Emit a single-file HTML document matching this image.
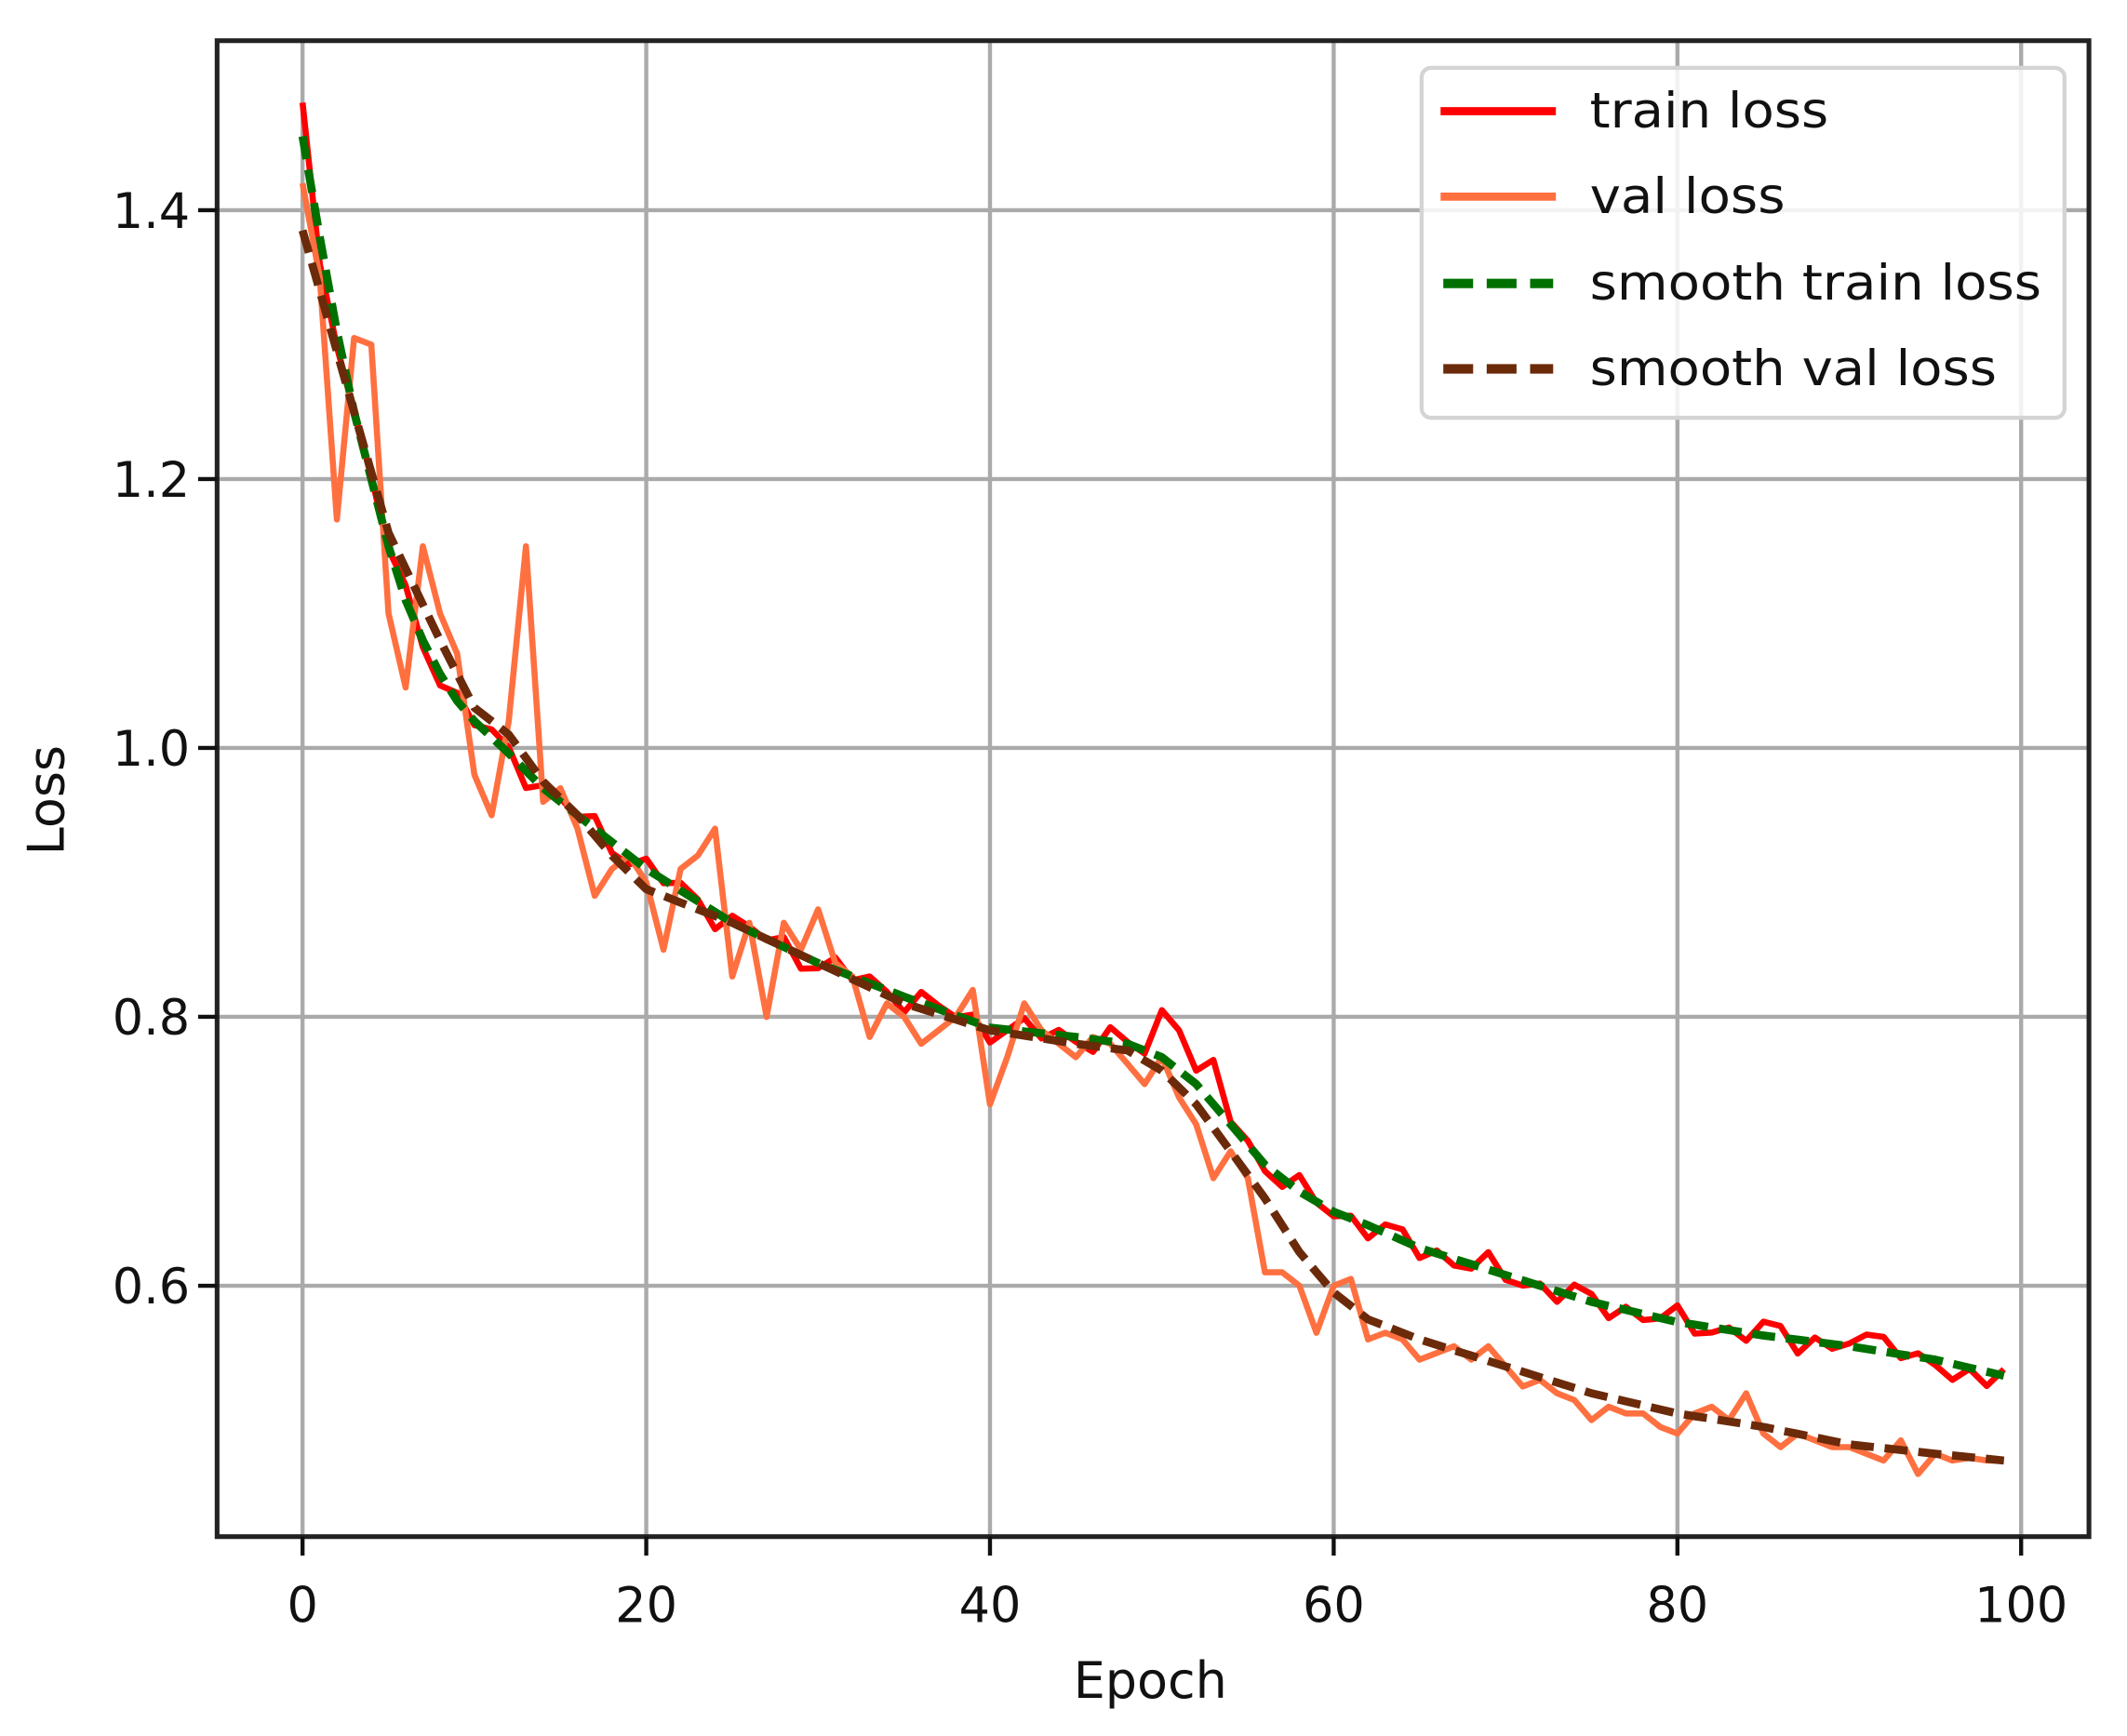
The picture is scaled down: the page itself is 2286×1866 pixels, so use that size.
<!DOCTYPE html>
<html><head><meta charset="utf-8"><style>
html,body{margin:0;padding:0;background:#fff;}
svg{display:block;}
text{font-family:"DejaVu Sans","Liberation Sans",sans-serif;fill:#111;}
</style></head><body>
<svg id="s" width="2286" height="1866" viewBox="0 0 1568 1280" xmlns="http://www.w3.org/2000/svg">
<rect width="1568" height="1280" fill="#fff"/>
<g id="grid" stroke="#aaaaaa" stroke-width="3"></g>
<g id="series" fill="none" stroke-linejoin="round"></g>
<rect x="160" y="30" width="1380" height="1103" fill="none" stroke="#222" stroke-width="3.5"/>
<g id="ticks" stroke="#111" stroke-width="3"></g>
<g id="labels" font-size="36"></g>
<text x="848" y="1252" font-size="37" text-anchor="middle">Epoch</text>
<text transform="translate(47,590) rotate(-90)" font-size="37" text-anchor="middle">Loss</text>
<rect x="1048" y="50" width="474" height="258" rx="7" fill="#fff" fill-opacity="0.85" stroke="#d4d4d4" stroke-width="3"/>
<line x1="1062" y1="82" x2="1147" y2="82" stroke="#ff0000" stroke-width="6"/>
<line x1="1062" y1="145" x2="1147" y2="145" stroke="#ff7040" stroke-width="6"/>
<line x1="1064" y1="209" x2="1145" y2="209" stroke="#007000" stroke-width="7" stroke-dasharray="22,10"/>
<line x1="1064" y1="272" x2="1145" y2="272" stroke="#6b2a0a" stroke-width="7" stroke-dasharray="22,10"/>
<text x="1172" y="94" font-size="36" textLength="176" lengthAdjust="spacingAndGlyphs">train loss</text>
<text x="1172" y="157" font-size="36" textLength="144" lengthAdjust="spacingAndGlyphs">val loss</text>
<text x="1172" y="221" font-size="36" textLength="333" lengthAdjust="spacingAndGlyphs">smooth train loss</text>
<text x="1172" y="284" font-size="36" textLength="300" lengthAdjust="spacingAndGlyphs">smooth val loss</text>
</svg>
<script>
var NS="http://www.w3.org/2000/svg";
function X(e){return 223+e*12.67;}
function Y(v){return 948-(v-0.6)*991.25;}
function el(p,tag,a){var e=document.createElementNS(NS,tag);for(var k in a)e.setAttribute(k,a[k]);p.appendChild(e);return e;}
var grid=document.getElementById('grid'),ticks=document.getElementById('ticks'),labels=document.getElementById('labels');
[0,20,40,60,80,100].forEach(function(e){var x=X(e);el(grid,'line',{x1:x,y1:30,x2:x,y2:1133});el(ticks,'line',{x1:x,y1:1133,x2:x,y2:1147});var t=el(labels,'text',{x:x,y:1196,'text-anchor':'middle'});t.textContent=e;});
[0.6,0.8,1.0,1.2,1.4].forEach(function(v){var y=Y(v);el(grid,'line',{x1:160,y1:y,x2:1540,y2:y});el(ticks,'line',{x1:146,y1:y,x2:160,y2:y});var t=el(labels,'text',{x:140,y:y+13,'text-anchor':'end'});t.textContent=v.toFixed(1);});
function interp(kp){var out=[];for(var e=0;e<100;e++){for(var i=0;i<kp.length-1;i++){if(e>=kp[i][0]&&e<=kp[i+1][0]){var t=(e-kp[i][0])/(kp[i+1][0]-kp[i][0]);out.push(kp[i][1]+t*(kp[i+1][1]-kp[i][1]));break;}}}return out;}
var g=interp([[0,1.455],[1,1.38],[2,1.31],[3,1.25],[4,1.2],[5,1.15],[6,1.11],[7,1.08],[8,1.055],[9,1.035],[10,1.02],[12,0.996],[14,0.97],[16,0.95],[18,0.93],[20,0.91],[25,0.87],[30,0.84],[35,0.815],[40,0.792],[45,0.785],[48,0.78],[50,0.77],[52,0.75],[54,0.72],[56,0.69],[58,0.67],[60,0.655],[62,0.645],[65,0.628],[70,0.608],[75,0.588],[80,0.573],[85,0.563],[90,0.555],[95,0.545],[99,0.533]]);
var b=interp([[0,1.385],[3,1.25],[5,1.16],[8,1.08],[10,1.03],[12,1.01],[14,0.975],[16,0.95],[18,0.92],[20,0.895],[25,0.87],[30,0.84],[35,0.81],[40,0.79],[45,0.78],[48,0.775],[50,0.76],[52,0.735],[54,0.7],[56,0.665],[58,0.625],[60,0.595],[62,0.575],[65,0.56],[70,0.54],[75,0.52],[80,0.505],[85,0.495],[90,0.482],[95,0.475],[99,0.47]]);
var r=g.map(function(v,i){return v+0.008*Math.sin(i*2.3)+0.005*Math.cos(i*5.1);});
r[0]=1.48;r[1]=1.36;r[50]=0.805;r[51]=0.79;r[52]=0.76;r[53]=0.768;r[54]=0.722;r[86]=0.57;r[92]=0.562;r[96]=0.53;
var o=[1.42,1.35,1.17,1.305,1.30,1.1,1.045,1.15,1.1,1.07,0.98,0.95,1.02,1.15,0.96,0.97,0.94,0.89,0.91,0.92,0.9,0.85,0.91,0.92,0.94,0.83,0.87,0.8,0.87,0.85,0.88,0.84,0.83,0.785,0.81,0.8,0.78,0.79,0.8,0.82,0.735,0.77,0.81,0.79,0.78,0.77,0.785,0.78,0.765,0.75,0.77,0.74,0.72,0.68,0.7,0.68,0.61,0.61,0.6,0.565,0.6,0.605,0.56,0.565,0.56,0.545,0.55,0.555,0.545,0.555,0.54,0.525,0.53,0.52,0.515,0.5,0.51,0.505,0.505,0.495,0.49,0.505,0.51,0.5,0.52,0.49,0.48,0.49,0.485,0.48,0.48,0.475,0.47,0.485,0.46,0.475,0.47,0.472,0.47,0.47];
function pts(a){return a.map(function(v,i){return X(i).toFixed(1)+','+Y(v).toFixed(1);}).join(' ');}
var s=document.getElementById('series');
el(s,'polyline',{points:pts(r),stroke:'#ff0000','stroke-width':4.5});
el(s,'polyline',{points:pts(o),stroke:'#ff7040','stroke-width':4.5});
el(s,'polyline',{points:pts(g),stroke:'#007000','stroke-width':6,'stroke-dasharray':'17,8'});
el(s,'polyline',{points:pts(b),stroke:'#6b2a0a','stroke-width':6,'stroke-dasharray':'17,8'});
</script>
</body></html>
